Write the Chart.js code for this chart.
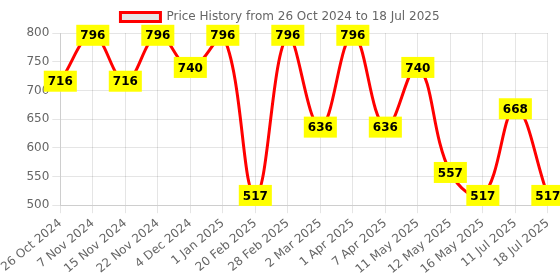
<!DOCTYPE html>
<html>
<head>
<meta charset="utf-8">
<script src="https://cdn.jsdelivr.net/npm/chart.js@4"></script>
<style>
  html, body { margin: 0; padding: 0; background: #fff; }
  #wrap { width: 560px; height: 280px; }
</style>
</head>
<body>
<div id="wrap"><canvas id="priceChart"></canvas></div>
<script>
// fechas y precios
const fechas = ["26 Oct 2024", "7 Nov 2024", "15 Nov 2024", "22 Nov 2024", "4 Dec 2024", "1 Jan 2025",
  "20 Feb 2025", "28 Feb 2025", "2 Mar 2025", "1 Apr 2025", "7 Apr 2025", "11 May 2025",
  "12 May 2025", "16 May 2025", "11 Jul 2025", "18 Jul 2025"];
const precios = [716, 796, 716, 796, 740, 796, 517, 796, 636, 796, 636, 740, 557, 517, 668, 517];
const titulo = "Price History from 26 Oct 2024 to 18 Jul 2025";

Chart.defaults.font.family = "'DejaVu Sans', sans-serif";
Chart.defaults.color = "#666";

// etiquetas amarillas encima de cada punto
const etiquetas = {
  id: "etiquetas",
  afterDatasetsDraw(chart) {
    const ctx = chart.ctx;
    const meta = chart.getDatasetMeta(0);
    ctx.save();
    ctx.font = "bold 12px 'DejaVu Sans', sans-serif";
    ctx.textAlign = "center";
    ctx.textBaseline = "middle";
    meta.data.forEach((pt, i) => {
      const txt = String(precios[i]);
      const w = ctx.measureText(txt).width + 8;
      const h = 21;
      ctx.fillStyle = "#ffff00";
      ctx.fillRect(pt.x - w / 2, pt.y - h / 2, w, h);
      ctx.fillStyle = "#000";
      ctx.fillText(txt, pt.x, pt.y + 1);
    });
    ctx.restore();
  }
};

new Chart(document.getElementById("priceChart"), {
  type: "line",
  data: {
    labels: fechas,
    datasets: [{
      label: titulo,
      data: precios,
      borderColor: "red",
      backgroundColor: "rgba(230, 230, 230, 1)",
      borderWidth: 3,
      tension: 0.4,
      pointRadius: 0,
      fill: false
    }]
  },
  options: {
    responsive: true,
    maintainAspectRatio: false,
    animation: false,
    layout: { padding: { top: 1 } },
    plugins: {
      legend: {
        labels: { boxWidth: 40, boxHeight: 9, font: { size: 12 } }
      },
      tooltip: { enabled: false }
    },
    scales: {
      x: {
        ticks: { autoSkip: false, font: { size: 12 } }
      },
      y: {
        min: 500,
        max: 800,
        ticks: { stepSize: 50, font: { size: 12 } }
      }
    }
  },
  plugins: [etiquetas]
});
</script>
</body>
</html>
